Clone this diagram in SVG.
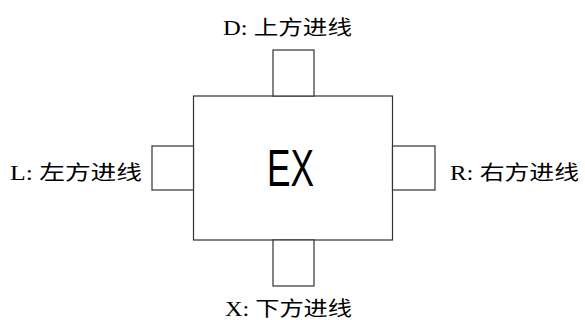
<svg xmlns="http://www.w3.org/2000/svg" width="585" height="320" viewBox="0 0 585 320">
<style>
.box{fill:#fff;stroke:#333;stroke-width:1.2}
.lbl{font-family:"Liberation Serif","Noto Sans CJK SC",serif;font-size:20px;fill:#000}
.big{font-family:"Liberation Sans","Noto Sans",sans-serif;font-size:52px;fill:#000}
</style>
<rect x="0" y="0" width="585" height="320" fill="#fff"/>
<g id="main">
<rect class="box" x="193.5" y="96" width="199" height="144"/>
<text class="big" x="267" y="185.5" textLength="47" lengthAdjust="spacingAndGlyphs">EX</text>
</g>
<g id="top">
<rect class="box" x="273" y="50" width="41" height="46"/>
<text class="lbl" x="223" y="35" textLength="129" lengthAdjust="spacingAndGlyphs">D: 上方进线</text>
</g>
<g id="bottom">
<rect class="box" x="273" y="240" width="41" height="46"/>
<text class="lbl" x="225" y="316" textLength="127" lengthAdjust="spacingAndGlyphs">X: 下方进线</text>
</g>
<g id="left">
<rect class="box" x="152" y="146" width="41.5" height="44"/>
<text class="lbl" x="10" y="180" textLength="132" lengthAdjust="spacingAndGlyphs">L: 左方进线</text>
</g>
<g id="right">
<rect class="box" x="392.5" y="146" width="42.5" height="44"/>
<text class="lbl" x="450" y="180" textLength="129" lengthAdjust="spacingAndGlyphs">R: 右方进线</text>
</g>
<g id="connectors"></g>
</svg>
